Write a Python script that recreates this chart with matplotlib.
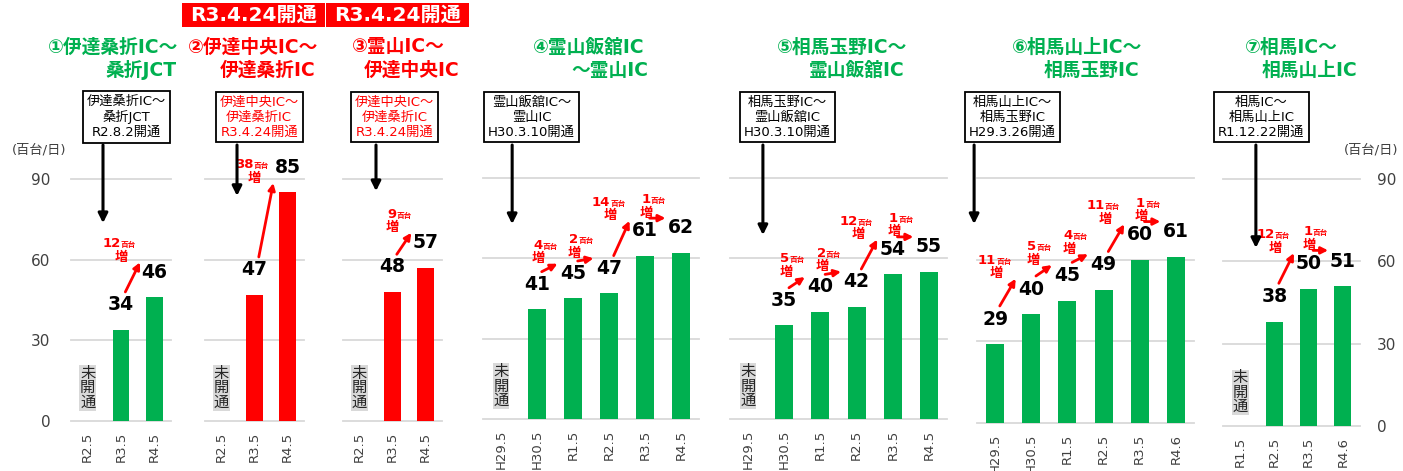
import matplotlib.pyplot as plt
from matplotlib import transforms
from matplotlib.patches import Rectangle

plt.rcParams['font.family'] = ['DejaVu Sans', 'Noto Sans CJK JP']

GREEN = '#00B050'
RED = '#FF0000'
GRID = '#D9D9D9'
TXT = '#404040'

# traffic volume (百台/日), None = not yet opened
cats_1 = ['R2.5', 'R3.5', 'R4.5']
vals_1 = [None, 34, 46]
cats_2 = ['R2.5', 'R3.5', 'R4.5']
vals_2 = [None, 47, 85]
cats_3 = ['R2.5', 'R3.5', 'R4.5']
vals_3 = [None, 48, 57]
cats_4 = ['H29.5', 'H30.5', 'R1.5', 'R2.5', 'R3.5', 'R4.5']
vals_4 = [None, 41, 45, 47, 61, 62]
cats_5 = ['H29.5', 'H30.5', 'R1.5', 'R2.5', 'R3.5', 'R4.5']
vals_5 = [None, 35, 40, 42, 54, 55]
cats_6 = ['H29.5', 'H30.5', 'R1.5', 'R2.5', 'R3.5', 'R4.6']
vals_6 = [29, 40, 45, 49, 60, 61]
cats_7 = ['R1.5', 'R2.5', 'R3.5', 'R4.6']
vals_7 = [None, 38, 50, 51]

all_cats = [cats_1, cats_2, cats_3, cats_4, cats_5, cats_6, cats_7]
all_vals = [vals_1, vals_2, vals_3, vals_4, vals_5, vals_6, vals_7]

titles = [('①伊達桑折IC～', '桑折JCT'), ('②伊達中央IC～', '伊達桑折IC'),
          ('③霊山IC～', '伊達中央IC'), ('④霊山飯舘IC', '～霊山IC'),
          ('⑤相馬玉野IC～', '霊山飯舘IC'), ('⑥相馬山上IC～', '相馬玉野IC'),
          ('⑦相馬IC～', '相馬山上IC')]
box_texts = ['伊達桑折IC～\n桑折JCT\nR2.8.2開通',
             '伊達中央IC～\n伊達桑折IC\nR3.4.24開通',
             '伊達中央IC～\n伊達桑折IC\nR3.4.24開通',
             '霊山飯舘IC～\n霊山IC\nH30.3.10開通',
             '相馬玉野IC～\n霊山飯舘IC\nH30.3.10開通',
             '相馬山上IC～\n相馬玉野IC\nH29.3.26開通',
             '相馬IC～\n相馬山上IC\nR1.12.22開通']
is_new = [False, True, True, False, False, False, False]
banner_text = 'R3.4.24開通'

# layout (pixels): axes left, right, zero line y, px per unit
ax_px = [(71, 171, 421, 2.689), (205, 304, 421, 2.689), (343, 442, 421, 2.689),
         (483, 699, 419, 2.678), (730, 947, 419, 2.678), (977, 1194, 423, 2.722),
         (1223, 1360, 426, 2.744)]
title_right = [(178, 177), (318, 316), (445, 460), (645, 648), (907, 905),
               (1142, 1139), (1338, 1357)]
box_x = [1.17, 1.14, 1.06, 0.85, 1.09, 0.48, 0.62]
open_x = [0.46, 0.47, 0.5, 0.31, 0.41, -0.58, 0.46]
open_tip = [73.6, 83.7, 85.5, 72.8, 68.7, 73.1, 64.9]

W, H = 1403, 471
fig = plt.figure(figsize=(W / 100, H / 100), dpi=100)

PT = 0.72  # px -> pt

for k in range(7):
    cats, vals = all_cats[k], all_vals[k]
    x0, x1, y0, ppu = ax_px[k]
    ymax = 100
    ax = fig.add_axes([x0 / W, 1 - y0 / H, (x1 - x0) / W, ymax * ppu / H])
    color = RED if is_new[k] else GREEN
    xs = [i for i, v in enumerate(vals) if v is not None]
    hs = [v for v in vals if v is not None]
    ax.bar(xs, hs, width=0.5, color=color, zorder=2)
    ax.set_xlim(-0.5, len(cats) - 0.5)
    ax.set_ylim(0, ymax)
    ax.set_yticks([0, 30, 60, 90])
    ax.yaxis.grid(True, color=GRID, lw=1.3)
    for gl in ax.get_ygridlines():
        gl.set_clip_on(False)
    ax.set_axisbelow(True)
    for s in ax.spines.values():
        s.set_visible(False)
    ax.set_xticks(range(len(cats)))
    ax.set_xticklabels(cats, rotation=90, fontsize=9.5, color=TXT)
    ax.tick_params(axis='x', length=0, pad=8)
    if k == 0:
        ax.tick_params(axis='y', length=0, pad=15, labelsize=11, labelcolor=TXT)
    elif k == 6:
        ax.yaxis.tick_right()
        ax.tick_params(axis='y', length=0, pad=12, labelsize=11, labelcolor=TXT)
    else:
        ax.tick_params(axis='y', length=0, labelleft=False)

    # value labels / not opened
    for i, v in enumerate(vals):
        if v is None:
            ax.text(i, 12.3, '未\n開\n通', ha='center', va='center', fontsize=11,
                    linespacing=0.95, color='#262626',
                    bbox=dict(facecolor=GRID, edgecolor='none', pad=0.5))
        else:
            ax.annotate(str(v), (i, v), xytext=(0, 18), textcoords='offset points',
                        ha='center', va='center', fontsize=13.5, fontweight='bold',
                        annotation_clip=False)

    # increase arrows
    for i in range(len(vals) - 1):
        a, b = vals[i], vals[i + 1]
        if a is None or b is None:
            continue
        S = (i + 0.13, a + 14)
        E = (i + 1 - 0.43, min(b + 13, 88.5))
        ax.annotate('', xy=E, xytext=S,
                    arrowprops=dict(arrowstyle='-|>', color=RED, lw=2,
                                    mutation_scale=10, shrinkA=0, shrinkB=0),
                    annotation_clip=False)
        d = str(b - a)
        split = (16 - 8.5 * len(d)) / 2
        ax.annotate(d, E, xytext=((-19 + split) * PT, 15 * PT),
                    textcoords='offset points', ha='right', va='baseline',
                    fontsize=9.5, fontweight='bold', color=RED, annotation_clip=False)
        ax.annotate('百台', E, xytext=((-19 + split) * PT, 15 * PT),
                    textcoords='offset points', ha='left', va='baseline',
                    fontsize=5.5, fontweight='bold', color=RED, annotation_clip=False)
        ax.annotate('増', E, xytext=(-19 * PT, 5 * PT),
                    textcoords='offset points', ha='center', va='center',
                    fontsize=9.5, fontweight='bold', color=RED, annotation_clip=False)

    # opening box and arrow
    blend = transforms.blended_transform_factory(ax.transData, fig.transFigure)
    ax.text(box_x[k], 1 - 117 / H, box_texts[k], transform=blend, ha='center',
            va='center', fontsize=9.5, linespacing=1.2,
            color=RED if is_new[k] else 'black',
            bbox=dict(boxstyle='square,pad=0.3', facecolor='white',
                      edgecolor='black', lw=1.3), zorder=5)
    ax.annotate('', xy=(open_x[k], open_tip[k]), xycoords='data',
                xytext=(open_x[k], 1 - 145 / H), textcoords=blend,
                arrowprops=dict(arrowstyle='-|>', color='black', lw=2.2,
                                mutation_scale=14, shrinkA=0, shrinkB=0),
                annotation_clip=False)

    # titles
    tcolor = RED if is_new[k] else GREEN
    l1, l2 = titles[k]
    r1, r2 = title_right[k]
    fig.text(r1 / W, 1 - 47 / H, l1, ha='right', va='center', fontsize=13.5,
             fontweight='bold', color=tcolor)
    fig.text(r2 / W, 1 - 70 / H, l2, ha='right', va='center', fontsize=13.5,
             fontweight='bold', color=tcolor)

# banners for the new section
for bx0, bx1 in [(182, 325), (326, 469)]:
    fig.add_artist(Rectangle((bx0 / W, 1 - 27 / H), (bx1 - bx0) / W, 24 / H,
                             transform=fig.transFigure, facecolor=RED,
                             edgecolor='none'))
    fig.text((bx0 + bx1) / 2 / W, 1 - 15 / H, banner_text, ha='center', va='center',
             fontsize=14.5, fontweight='bold', color='white')

# units
fig.text(39 / W, 1 - 150 / H, '(百台/日)', ha='center', va='center', fontsize=9.5,
         color=TXT)
fig.text(1371 / W, 1 - 150 / H, '(百台/日)', ha='center', va='center', fontsize=9.5,
         color=TXT)

fig.savefig('out.png', dpi=100)
